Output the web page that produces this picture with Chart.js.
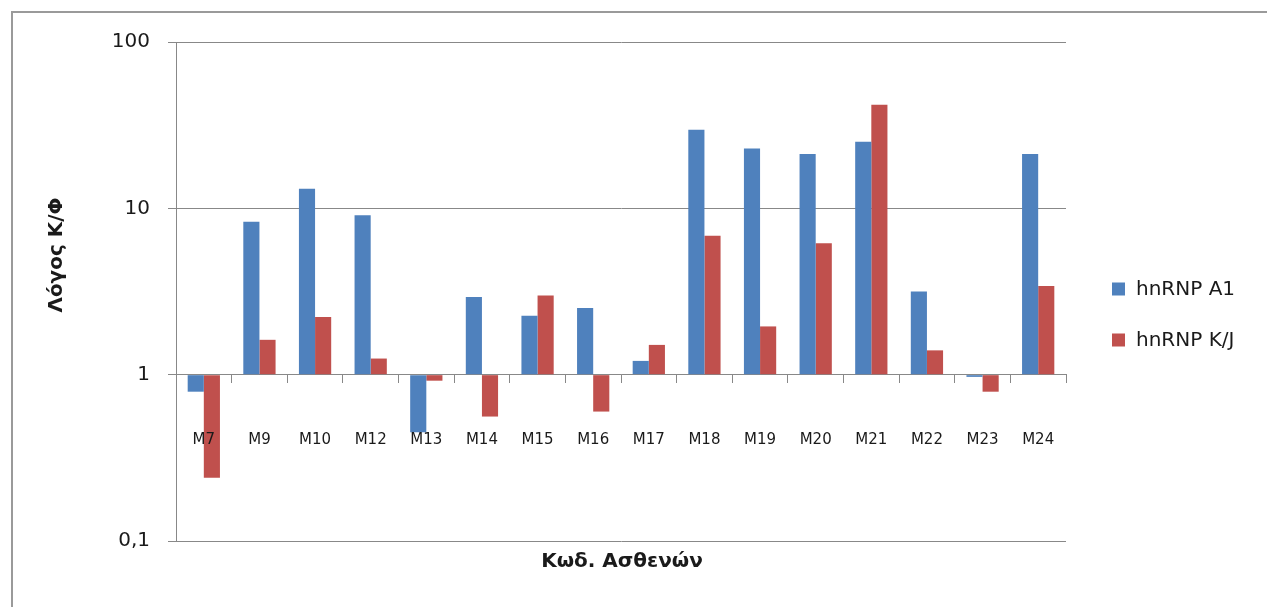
<!DOCTYPE html>
<html lang="el">
<head>
<meta charset="utf-8">
<title>hnRNP A1 / hnRNP K/J</title>
<script src="https://cdn.jsdelivr.net/npm/chart.js@4.4.1/dist/chart.umd.min.js"></script>
<style>
  html, body { margin: 0; padding: 0; background: #fff; overflow: hidden; }
  .frame {
    position: absolute; left: 11px; top: 11px;
    width: 1320px; height: 700px;
    border: 2px solid #9a9a9a;
  }
  #chart { position: absolute; left: 0; top: 0; }
</style>
</head>
<body>
<div class="frame"></div>
<canvas id="chart" width="1267" height="607"></canvas>
<script>
  const patients = ["M7", "M9", "M10", "M12", "M13", "M14", "M15", "M16",
    "M17", "M18", "M19", "M20", "M21", "M22", "M23", "M24"];

  const hnrnpA1 = [0.79, 8.3, 13.1, 9.1, 0.45, 2.93, 2.26, 2.52,
    1.21, 29.7, 22.9, 21.2, 25.1, 3.16, 0.97, 21.2];

  const hnrnpKJ = [0.24, 1.62, 2.22, 1.25, 0.92, 0.56, 2.99, 0.6,
    1.51, 6.85, 1.95, 6.16, 42.0, 1.4, 0.79, 3.41];

  const yTicks = [0.1, 1, 10, 100];
  const yTickLabels = ["0,1", "1", "10", "100"];

  const COLORS = {
    blue: "#4f81bd",
    red: "#c0504d",
    grid: "#888888",
    text: "#1a1a1a"
  };

  const FONT = "'DejaVu Sans', Verdana, sans-serif";

  // axis titles and the legend are placed by hand around the plot
  const decorPlugin = {
    id: "decorPlugin",
    afterDraw(chart) {
      const { ctx, chartArea } = chart;
      ctx.save();
      ctx.fillStyle = COLORS.text;

      ctx.font = "bold 20px " + FONT;
      ctx.textAlign = "center";
      ctx.textBaseline = "middle";
      ctx.fillText("Κωδ. Ασθενών", 622, chartArea.bottom + 21);

      ctx.save();
      ctx.translate(57, 255);
      ctx.rotate(-Math.PI / 2);
      ctx.font = "bold 20px " + FONT;
      ctx.fillText("Λόγος Κ/Φ", 0, 0);
      ctx.restore();

      ctx.font = "20px " + FONT;
      ctx.textAlign = "left";
      chart.data.datasets.forEach((ds, i) => {
        const cy = 289 + i * 51;
        ctx.fillStyle = ds.backgroundColor;
        ctx.fillRect(1112, cy - 6.5, 13, 13);
        ctx.fillStyle = COLORS.text;
        ctx.fillText(ds.label, 1136, cy + 1);
      });

      ctx.restore();
    }
  };

  new Chart(document.getElementById("chart"), {
    type: "bar",
    data: {
      labels: patients,
      datasets: [
        {
          label: "hnRNP A1",
          data: hnrnpA1,
          backgroundColor: COLORS.blue,
          base: 1
        },
        {
          label: "hnRNP K/J",
          data: hnrnpKJ,
          backgroundColor: COLORS.red,
          base: 1
        }
      ]
    },
    options: {
      responsive: false,
      animation: false,
      devicePixelRatio: 1,
      layout: {
        padding: { left: 0, top: 42, right: 201, bottom: 66 }
      },
      datasets: {
        bar: {
          categoryPercentage: 0.58,
          barPercentage: 1
        }
      },
      plugins: {
        legend: { display: false },
        tooltip: { enabled: false }
      },
      scales: {
        x: {
          type: "category",
          position: { y: 1 },
          offset: true,
          grid: {
            offset: true,
            drawOnChartArea: false,
            drawTicks: true,
            tickLength: 8,
            color: COLORS.grid
          },
          border: { color: COLORS.grid, width: 1 },
          ticks: {
            z: 1, // category names sit on top of the bars
            padding: 48,
            color: COLORS.text,
            font: { family: FONT, size: 15 },
            maxRotation: 0,
            autoSkip: false
          }
        },
        y: {
          type: "logarithmic",
          min: 0.1,
          max: 100,
          afterBuildTicks(scale) {
            scale.ticks = yTicks.map((v) => ({ value: v, major: true }));
          },
          afterFit(scale) {
            scale.width = 176;
          },
          grid: {
            color: COLORS.grid,
            lineWidth: 1,
            tickLength: 8
          },
          border: { color: COLORS.grid, width: 1 },
          ticks: {
            padding: 18,
            color: COLORS.text,
            font: { family: FONT, size: 20 },
            callback(value) {
              const i = yTicks.indexOf(value);
              return i >= 0 ? yTickLabels[i] : "";
            }
          }
        }
      }
    },
    plugins: [decorPlugin]
  });
</script>
</body>
</html>
